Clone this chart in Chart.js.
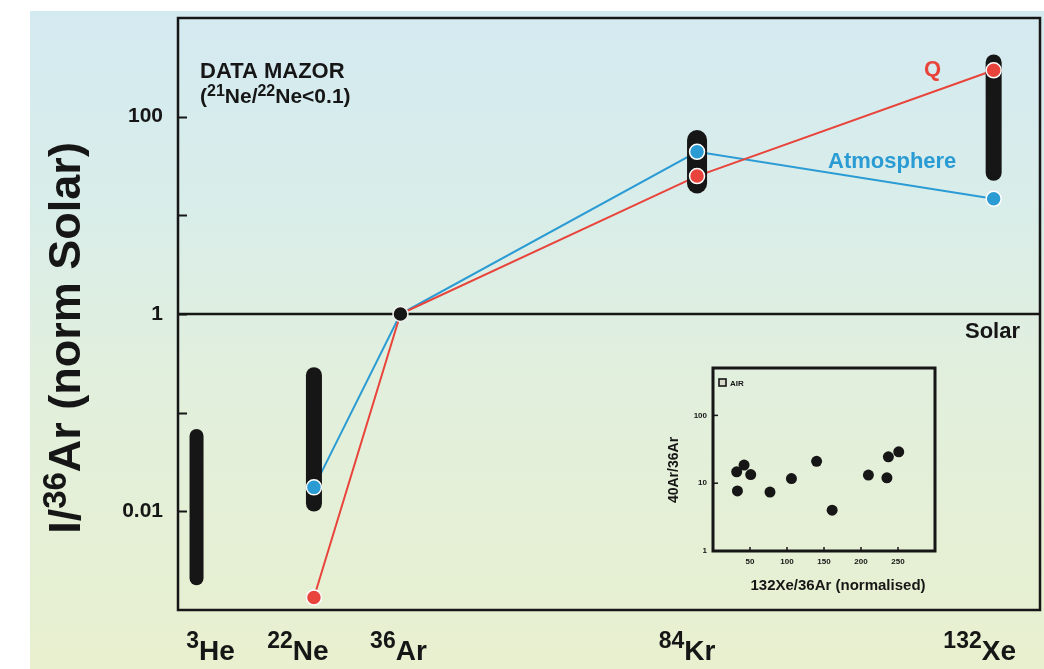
<!DOCTYPE html>
<html>
<head>
<meta charset="utf-8">
<title>Noble gas abundances relative to 36Ar</title>
<script src="https://cdn.jsdelivr.net/npm/chart.js@4.4.1/dist/chart.umd.min.js"></script>
<style>
  html, body { margin: 0; padding: 0; background: #fff; }
  #wrap  { position: relative; width: 1044px; height: 669px; overflow: hidden; }
  #bg    { position: absolute; left: 30px; top: 11px; right: 0; bottom: 0;
           background: linear-gradient(to bottom, #d4eaf1 0%, #d9ede9 30%, #e1efdd 55%, #e8f0cf 100%); }
  #main  { position: absolute; left: 0; top: 0; }
  #inset { position: absolute; left: 650px; top: 360px; }
</style>
</head>
<body>
<div id="wrap">
  <div id="bg"></div>
  <canvas id="main" width="1044" height="669"></canvas>
  <canvas id="inset" width="295" height="245"></canvas>
</div>
<script>
// ── DATA ──
const isotopeMasses  = [3, 22, 36, 84, 132];
const isotopeNumbers = ['3', '22', '36', '84', '132'];
const isotopeSymbols = ['He', 'Ne', 'Ar', 'Kr', 'Xe'];

// black ranges (data of Mazor)
const rangeMasses = [3, 22, 84, 132];
const rangeLow    = [0.0021, 0.012, 21, 27];
const rangeHigh   = [0.058, 0.24, 58, 355];

// Q and atmosphere patterns
const patternMasses = [22, 36, 84, 132];
const qValues       = [0.00134, 1, 25, 295];
const atmValues     = [0.0175, 1, 44, 14.7];

const normMass   = 36;
const solarValue = 1;

const yTickValues    = [0.001, 0.01, 0.1, 1, 10, 100, 1000];
const yLabelValues   = [100, 1, 0.01];
const yLabelTexts    = ['100', '1', '0.01'];

// inset: air samples
const airXeAr = [32, 33, 42, 51, 77, 106, 140, 161, 210, 235, 237, 251];
const airArAr = [14.7, 7.7, 18.5, 13.4, 7.4, 11.7, 21, 4.0, 13.2, 12, 24.5, 29];
const insetXTicks = [50, 100, 150, 200, 250];
const insetYTicks = [1, 10, 100];

// ── STYLE ──
const FONT  = '"Liberation Sans", Arial, Helvetica, sans-serif';
const RED   = '#e8443b';
const BLUE  = '#2b9bd4';
const INK   = '#161616';
const rangeBarWidths = [14, 16, 20, 16];
const xLabelNudge    = [14, -16, -2, -10, -14];

Chart.defaults.font.family = FONT;

const pts = (xs, ys) => xs.map((x, i) => ({ x, y: ys[i] }));

// fixed axis box, no label overhang
function fixBox(size) {
  return s => {
    if (s.isHorizontal()) s.height = size; else s.width = size;
    s.paddingTop = s.paddingBottom = s.paddingLeft = s.paddingRight = 0;
  };
}

// draws a run of text pieces: [text, font, raise]
function drawRich(ctx, parts, x, y, align) {
  let total = 0;
  parts.forEach(p => { ctx.font = p[1]; total += ctx.measureText(p[0]).width; });
  let cx = align === 'center' ? x - total / 2 : x;
  ctx.textAlign = 'left';
  ctx.textBaseline = 'alphabetic';
  parts.forEach(p => {
    ctx.font = p[1];
    ctx.fillText(p[0], cx, y - p[2]);
    cx += ctx.measureText(p[0]).width;
  });
}

// ── MAIN CHART DECOR ──
const mainDecor = {
  id: 'mainDecor',
  afterDraw(chart) {
    const { ctx, chartArea: a, scales: { x, y } } = chart;
    ctx.save();

    // frame
    ctx.strokeStyle = INK;
    ctx.lineWidth = 2.5;
    ctx.strokeRect(a.left, a.top, a.right - a.left, a.bottom - a.top);

    // inward tick marks
    ctx.lineWidth = 2;
    yTickValues.forEach(v => {
      if (v <= y.min || v >= y.max) return;
      const py = Math.round(y.getPixelForValue(v)) + 0.5;
      ctx.beginPath();
      ctx.moveTo(a.left, py);
      ctx.lineTo(a.left + 9, py);
      ctx.stroke();
    });

    ctx.fillStyle = INK;

    // isotope labels under the axis
    isotopeMasses.forEach((m, i) => {
      const cx = x.getPixelForValue(m) + xLabelNudge[i];
      drawRich(ctx, [
        [isotopeNumbers[i], `bold 23px ${FONT}`, 12],
        [isotopeSymbols[i], `bold 28px ${FONT}`, 0]
      ], cx, 660, 'center');
    });

    // y axis title
    ctx.save();
    ctx.translate(80, 338);
    ctx.rotate(-Math.PI / 2);
    drawRich(ctx, [
      ['I/', `bold 45px ${FONT}`, 0],
      ['36', `bold 33px ${FONT}`, 14],
      ['Ar (norm Solar)', `bold 45px ${FONT}`, 0]
    ], 0, 0, 'center');
    ctx.restore();

    // annotations
    ctx.font = `bold 22px ${FONT}`;
    ctx.textAlign = 'left';
    ctx.fillText('DATA MAZOR', 200, 78);
    drawRich(ctx, [
      ['(', `bold 21px ${FONT}`, 0],
      ['21', `bold 16px ${FONT}`, 7],
      ['Ne/', `bold 21px ${FONT}`, 0],
      ['22', `bold 16px ${FONT}`, 7],
      ['Ne<0.1)', `bold 21px ${FONT}`, 0]
    ], 200, 103, 'left');

    ctx.font = `bold 22px ${FONT}`;
    ctx.fillText('Solar', 965, 338);
    ctx.fillStyle = RED;
    ctx.fillText('Q', 924, 76);
    ctx.fillStyle = BLUE;
    ctx.fillText('Atmosphere', 828, 168);

    ctx.restore();
  }
};

new Chart(document.getElementById('main').getContext('2d'), {
  type: 'line',
  data: {
    datasets: [
      {
        label: 'Solar (36Ar)',
        data: [{ x: normMass, y: solarValue }],
        showLine: false,
        pointRadius: 7.5,
        pointBackgroundColor: INK,
        pointBorderColor: '#f2f2ee',
        pointBorderWidth: 1.5
      },
      {
        label: 'Q points',
        data: pts(patternMasses, qValues),
        showLine: false,
        pointRadius: c => patternMasses[c.dataIndex] === normMass ? 0 : 7.5,
        pointBackgroundColor: RED,
        pointBorderColor: '#fff',
        pointBorderWidth: 1.5
      },
      {
        label: 'Atmosphere points',
        data: pts(patternMasses, atmValues),
        showLine: false,
        pointRadius: c => patternMasses[c.dataIndex] === normMass ? 0 : 7.5,
        pointBackgroundColor: BLUE,
        pointBorderColor: '#fff',
        pointBorderWidth: 1.5
      },
      ...rangeMasses.map((m, i) => ({
        label: 'Mazor ' + m,
        data: [{ x: m, y: rangeLow[i] }, { x: m, y: rangeHigh[i] }],
        borderColor: INK,
        borderWidth: rangeBarWidths[i],
        borderCapStyle: 'round',
        pointRadius: 0
      })),
      {
        label: 'Q',
        data: pts(patternMasses, qValues),
        borderColor: RED,
        borderWidth: 2,
        pointRadius: 0
      },
      {
        label: 'Atmosphere',
        data: pts(patternMasses, atmValues),
        borderColor: BLUE,
        borderWidth: 2,
        pointRadius: 0
      },
      {
        label: 'Solar',
        data: [{ x: 0, y: solarValue }, { x: 140, y: solarValue }],
        borderColor: INK,
        borderWidth: 2.5,
        pointRadius: 0
      }
    ]
  },
  options: {
    responsive: false,
    animation: false,
    layout: { autoPadding: false, padding: { left: 0, top: 18, right: 4, bottom: 0 } },
    plugins: { legend: { display: false }, tooltip: { enabled: false } },
    scales: {
      x: {
        type: 'linear',
        min: 0,
        max: 139.5,
        ticks: { display: false },
        grid: { display: false, drawTicks: false },
        border: { display: false },
        afterFit: fixBox(59)
      },
      y: {
        type: 'logarithmic',
        min: 0.001,
        max: 1000,
        afterBuildTicks: s => { s.ticks = yTickValues.map(v => ({ value: v })); },
        afterFit: fixBox(178),
        ticks: {
          autoSkip: false,
          padding: 15,
          color: INK,
          font: { size: 21, weight: 'bold' },
          callback: v => {
            const i = yLabelValues.indexOf(v);
            return i < 0 ? '' : yLabelTexts[i];
          }
        },
        grid: { display: false, drawTicks: false },
        border: { display: false }
      }
    }
  },
  plugins: [mainDecor]
});

// ── INSET ──
const insetDecor = {
  id: 'insetDecor',
  afterDraw(chart) {
    const { ctx, chartArea: a, scales: { x, y } } = chart;
    ctx.save();
    ctx.strokeStyle = INK;
    ctx.lineWidth = 3;
    ctx.strokeRect(a.left, a.top, a.right - a.left, a.bottom - a.top);

    ctx.lineWidth = 1.5;
    insetYTicks.forEach(v => {
      if (v <= y.min) return;
      const py = y.getPixelForValue(v);
      ctx.beginPath(); ctx.moveTo(a.left, py); ctx.lineTo(a.left + 5, py); ctx.stroke();
    });
    insetXTicks.forEach(v => {
      const px = x.getPixelForValue(v);
      ctx.beginPath(); ctx.moveTo(px, a.bottom); ctx.lineTo(px, a.bottom - 4); ctx.stroke();
    });

    // legend
    ctx.fillStyle = '#d9dccb';
    ctx.fillRect(a.left + 6, a.top + 11, 7, 7);
    ctx.lineWidth = 1.6;
    ctx.strokeRect(a.left + 6, a.top + 11, 7, 7);
    ctx.fillStyle = INK;
    ctx.font = `bold 8px ${FONT}`;
    ctx.textAlign = 'left';
    ctx.textBaseline = 'alphabetic';
    ctx.fillText('AIR', a.left + 17, a.top + 18);

    // titles
    ctx.font = `bold 15px ${FONT}`;
    ctx.textAlign = 'center';
    ctx.fillText('132Xe/36Ar (normalised)', 188, 230);
    ctx.save();
    ctx.translate(28, 110);
    ctx.rotate(-Math.PI / 2);
    ctx.font = `bold 14px ${FONT}`;
    ctx.fillText('40Ar/36Ar', 0, 0);
    ctx.restore();
    ctx.restore();
  }
};

new Chart(document.getElementById('inset').getContext('2d'), {
  type: 'scatter',
  data: {
    datasets: [{
      label: 'AIR',
      data: pts(airXeAr, airArAr),
      pointRadius: 5.5,
      pointBackgroundColor: INK,
      pointBorderWidth: 0
    }]
  },
  options: {
    responsive: false,
    animation: false,
    layout: { autoPadding: false, padding: { left: 0, top: 8, right: 10, bottom: 0 } },
    plugins: { legend: { display: false }, tooltip: { enabled: false } },
    scales: {
      x: {
        type: 'linear',
        min: 0,
        max: 300,
        afterBuildTicks: s => { s.ticks = insetXTicks.map(v => ({ value: v })); },
        afterFit: fixBox(54),
        ticks: { autoSkip: false, padding: 6, color: INK, font: { size: 8, weight: 'bold' } },
        grid: { display: false, drawTicks: false },
        border: { display: false }
      },
      y: {
        type: 'logarithmic',
        min: 1,
        max: 500,
        afterBuildTicks: s => { s.ticks = insetYTicks.map(v => ({ value: v })); },
        afterFit: fixBox(63),
        ticks: {
          autoSkip: false, padding: 6, color: INK, font: { size: 8, weight: 'bold' },
          callback: v => String(v)
        },
        grid: { display: false, drawTicks: false },
        border: { display: false }
      }
    }
  },
  plugins: [insetDecor]
});
</script>
</body>
</html>
